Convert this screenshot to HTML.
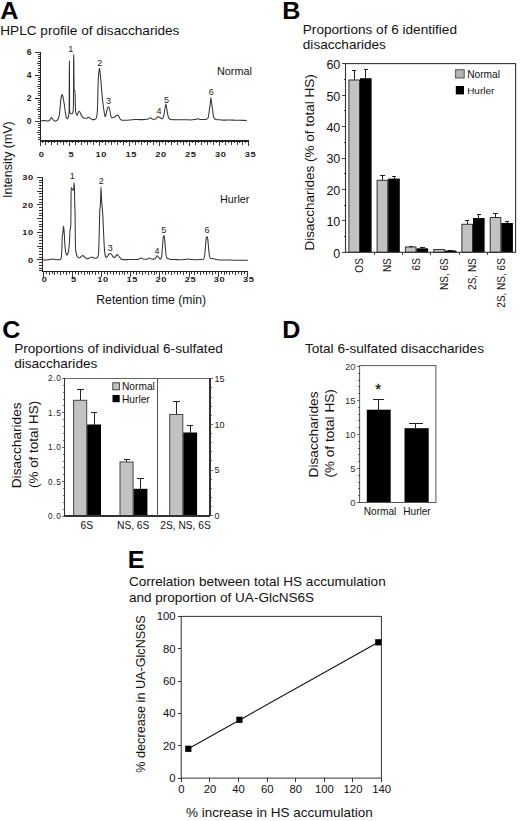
<!DOCTYPE html>
<html><head><meta charset="utf-8"><style>
html,body{margin:0;padding:0;background:#fff;}
svg{display:block;font-family:"Liberation Sans", sans-serif;}
line{shape-rendering:crispEdges;}
body{overflow:hidden;}
</style></head><body>
<svg width="520" height="821" viewBox="0 0 520 821">
<rect width="520" height="821" fill="#fff"/>
<text transform="translate(0.2,18.6) scale(1.07,1)" font-size="23.5" font-weight="bold" fill="#000">A</text>
<text x="0.3" y="34.6" font-size="13.6" text-anchor="start" font-weight="normal" fill="#111" >HPLC profile of disaccharides</text>
<line x1="40.5" y1="51.5" x2="40.5" y2="141" stroke="#222" stroke-width="1.1"/>
<line x1="40.5" y1="141" x2="249.4" y2="141" stroke="#222" stroke-width="1.1"/>
<line x1="38.3" y1="139.4" x2="40.5" y2="139.4" stroke="#222" stroke-width="0.9"/>
<line x1="38.3" y1="137.1" x2="40.5" y2="137.1" stroke="#222" stroke-width="0.9"/>
<line x1="38.3" y1="134.8" x2="40.5" y2="134.8" stroke="#222" stroke-width="0.9"/>
<line x1="36.5" y1="132.5" x2="40.5" y2="132.5" stroke="#222" stroke-width="0.9"/>
<line x1="38.3" y1="130.2" x2="40.5" y2="130.2" stroke="#222" stroke-width="0.9"/>
<line x1="38.3" y1="127.9" x2="40.5" y2="127.9" stroke="#222" stroke-width="0.9"/>
<line x1="38.3" y1="125.6" x2="40.5" y2="125.6" stroke="#222" stroke-width="0.9"/>
<line x1="38.3" y1="123.3" x2="40.5" y2="123.3" stroke="#222" stroke-width="0.9"/>
<line x1="34.5" y1="121.0" x2="40.5" y2="121.0" stroke="#222" stroke-width="0.9"/>
<line x1="38.3" y1="118.7" x2="40.5" y2="118.7" stroke="#222" stroke-width="0.9"/>
<line x1="38.3" y1="116.4" x2="40.5" y2="116.4" stroke="#222" stroke-width="0.9"/>
<line x1="38.3" y1="114.1" x2="40.5" y2="114.1" stroke="#222" stroke-width="0.9"/>
<line x1="38.3" y1="111.8" x2="40.5" y2="111.8" stroke="#222" stroke-width="0.9"/>
<line x1="36.5" y1="109.5" x2="40.5" y2="109.5" stroke="#222" stroke-width="0.9"/>
<line x1="38.3" y1="107.2" x2="40.5" y2="107.2" stroke="#222" stroke-width="0.9"/>
<line x1="38.3" y1="104.9" x2="40.5" y2="104.9" stroke="#222" stroke-width="0.9"/>
<line x1="38.3" y1="102.6" x2="40.5" y2="102.6" stroke="#222" stroke-width="0.9"/>
<line x1="38.3" y1="100.3" x2="40.5" y2="100.3" stroke="#222" stroke-width="0.9"/>
<line x1="34.5" y1="98.0" x2="40.5" y2="98.0" stroke="#222" stroke-width="0.9"/>
<line x1="38.3" y1="95.7" x2="40.5" y2="95.7" stroke="#222" stroke-width="0.9"/>
<line x1="38.3" y1="93.4" x2="40.5" y2="93.4" stroke="#222" stroke-width="0.9"/>
<line x1="38.3" y1="91.1" x2="40.5" y2="91.1" stroke="#222" stroke-width="0.9"/>
<line x1="38.3" y1="88.80000000000001" x2="40.5" y2="88.80000000000001" stroke="#222" stroke-width="0.9"/>
<line x1="36.5" y1="86.5" x2="40.5" y2="86.5" stroke="#222" stroke-width="0.9"/>
<line x1="38.3" y1="84.19999999999999" x2="40.5" y2="84.19999999999999" stroke="#222" stroke-width="0.9"/>
<line x1="38.3" y1="81.9" x2="40.5" y2="81.9" stroke="#222" stroke-width="0.9"/>
<line x1="38.3" y1="79.6" x2="40.5" y2="79.6" stroke="#222" stroke-width="0.9"/>
<line x1="38.3" y1="77.30000000000001" x2="40.5" y2="77.30000000000001" stroke="#222" stroke-width="0.9"/>
<line x1="34.5" y1="75.0" x2="40.5" y2="75.0" stroke="#222" stroke-width="0.9"/>
<line x1="38.3" y1="72.69999999999999" x2="40.5" y2="72.69999999999999" stroke="#222" stroke-width="0.9"/>
<line x1="38.3" y1="70.4" x2="40.5" y2="70.4" stroke="#222" stroke-width="0.9"/>
<line x1="38.3" y1="68.1" x2="40.5" y2="68.1" stroke="#222" stroke-width="0.9"/>
<line x1="38.3" y1="65.80000000000001" x2="40.5" y2="65.80000000000001" stroke="#222" stroke-width="0.9"/>
<line x1="36.5" y1="63.5" x2="40.5" y2="63.5" stroke="#222" stroke-width="0.9"/>
<line x1="38.3" y1="61.199999999999996" x2="40.5" y2="61.199999999999996" stroke="#222" stroke-width="0.9"/>
<line x1="38.3" y1="58.9" x2="40.5" y2="58.9" stroke="#222" stroke-width="0.9"/>
<line x1="38.3" y1="56.60000000000001" x2="40.5" y2="56.60000000000001" stroke="#222" stroke-width="0.9"/>
<line x1="38.3" y1="54.3" x2="40.5" y2="54.3" stroke="#222" stroke-width="0.9"/>
<line x1="34.5" y1="52.0" x2="40.5" y2="52.0" stroke="#222" stroke-width="0.9"/>
<text x="31.6" y="124.2" font-size="8.6" text-anchor="end" font-weight="bold" fill="#222" >0</text>
<text x="31.6" y="101.2" font-size="8.6" text-anchor="end" font-weight="bold" fill="#222" >2</text>
<text x="31.6" y="78.2" font-size="8.6" text-anchor="end" font-weight="bold" fill="#222" >4</text>
<text x="31.6" y="55.2" font-size="8.6" text-anchor="end" font-weight="bold" fill="#222" >6</text>
<line x1="40.0" y1="141" x2="40.0" y2="146" stroke="#222" stroke-width="0.9"/>
<line x1="42.985" y1="141" x2="42.985" y2="143.3" stroke="#222" stroke-width="0.9"/>
<line x1="45.97" y1="141" x2="45.97" y2="144.5" stroke="#222" stroke-width="0.9"/>
<line x1="48.955" y1="141" x2="48.955" y2="143.3" stroke="#222" stroke-width="0.9"/>
<line x1="51.94" y1="141" x2="51.94" y2="144.5" stroke="#222" stroke-width="0.9"/>
<line x1="54.925" y1="141" x2="54.925" y2="143.3" stroke="#222" stroke-width="0.9"/>
<line x1="57.91" y1="141" x2="57.91" y2="144.5" stroke="#222" stroke-width="0.9"/>
<line x1="60.894999999999996" y1="141" x2="60.894999999999996" y2="143.3" stroke="#222" stroke-width="0.9"/>
<line x1="63.879999999999995" y1="141" x2="63.879999999999995" y2="144.5" stroke="#222" stroke-width="0.9"/>
<line x1="66.865" y1="141" x2="66.865" y2="143.3" stroke="#222" stroke-width="0.9"/>
<line x1="69.85" y1="141" x2="69.85" y2="146" stroke="#222" stroke-width="0.9"/>
<line x1="72.83500000000001" y1="141" x2="72.83500000000001" y2="143.3" stroke="#222" stroke-width="0.9"/>
<line x1="75.82" y1="141" x2="75.82" y2="144.5" stroke="#222" stroke-width="0.9"/>
<line x1="78.805" y1="141" x2="78.805" y2="143.3" stroke="#222" stroke-width="0.9"/>
<line x1="81.78999999999999" y1="141" x2="81.78999999999999" y2="144.5" stroke="#222" stroke-width="0.9"/>
<line x1="84.775" y1="141" x2="84.775" y2="143.3" stroke="#222" stroke-width="0.9"/>
<line x1="87.75999999999999" y1="141" x2="87.75999999999999" y2="144.5" stroke="#222" stroke-width="0.9"/>
<line x1="90.745" y1="141" x2="90.745" y2="143.3" stroke="#222" stroke-width="0.9"/>
<line x1="93.72999999999999" y1="141" x2="93.72999999999999" y2="144.5" stroke="#222" stroke-width="0.9"/>
<line x1="96.715" y1="141" x2="96.715" y2="143.3" stroke="#222" stroke-width="0.9"/>
<line x1="99.69999999999999" y1="141" x2="99.69999999999999" y2="146" stroke="#222" stroke-width="0.9"/>
<line x1="102.685" y1="141" x2="102.685" y2="143.3" stroke="#222" stroke-width="0.9"/>
<line x1="105.67" y1="141" x2="105.67" y2="144.5" stroke="#222" stroke-width="0.9"/>
<line x1="108.655" y1="141" x2="108.655" y2="143.3" stroke="#222" stroke-width="0.9"/>
<line x1="111.64" y1="141" x2="111.64" y2="144.5" stroke="#222" stroke-width="0.9"/>
<line x1="114.625" y1="141" x2="114.625" y2="143.3" stroke="#222" stroke-width="0.9"/>
<line x1="117.61" y1="141" x2="117.61" y2="144.5" stroke="#222" stroke-width="0.9"/>
<line x1="120.595" y1="141" x2="120.595" y2="143.3" stroke="#222" stroke-width="0.9"/>
<line x1="123.58" y1="141" x2="123.58" y2="144.5" stroke="#222" stroke-width="0.9"/>
<line x1="126.565" y1="141" x2="126.565" y2="143.3" stroke="#222" stroke-width="0.9"/>
<line x1="129.55" y1="141" x2="129.55" y2="146" stroke="#222" stroke-width="0.9"/>
<line x1="132.535" y1="141" x2="132.535" y2="143.3" stroke="#222" stroke-width="0.9"/>
<line x1="135.51999999999998" y1="141" x2="135.51999999999998" y2="144.5" stroke="#222" stroke-width="0.9"/>
<line x1="138.505" y1="141" x2="138.505" y2="143.3" stroke="#222" stroke-width="0.9"/>
<line x1="141.49" y1="141" x2="141.49" y2="144.5" stroke="#222" stroke-width="0.9"/>
<line x1="144.475" y1="141" x2="144.475" y2="143.3" stroke="#222" stroke-width="0.9"/>
<line x1="147.45999999999998" y1="141" x2="147.45999999999998" y2="144.5" stroke="#222" stroke-width="0.9"/>
<line x1="150.445" y1="141" x2="150.445" y2="143.3" stroke="#222" stroke-width="0.9"/>
<line x1="153.43" y1="141" x2="153.43" y2="144.5" stroke="#222" stroke-width="0.9"/>
<line x1="156.415" y1="141" x2="156.415" y2="143.3" stroke="#222" stroke-width="0.9"/>
<line x1="159.39999999999998" y1="141" x2="159.39999999999998" y2="146" stroke="#222" stroke-width="0.9"/>
<line x1="162.385" y1="141" x2="162.385" y2="143.3" stroke="#222" stroke-width="0.9"/>
<line x1="165.37" y1="141" x2="165.37" y2="144.5" stroke="#222" stroke-width="0.9"/>
<line x1="168.355" y1="141" x2="168.355" y2="143.3" stroke="#222" stroke-width="0.9"/>
<line x1="171.34" y1="141" x2="171.34" y2="144.5" stroke="#222" stroke-width="0.9"/>
<line x1="174.325" y1="141" x2="174.325" y2="143.3" stroke="#222" stroke-width="0.9"/>
<line x1="177.31" y1="141" x2="177.31" y2="144.5" stroke="#222" stroke-width="0.9"/>
<line x1="180.295" y1="141" x2="180.295" y2="143.3" stroke="#222" stroke-width="0.9"/>
<line x1="183.28" y1="141" x2="183.28" y2="144.5" stroke="#222" stroke-width="0.9"/>
<line x1="186.265" y1="141" x2="186.265" y2="143.3" stroke="#222" stroke-width="0.9"/>
<line x1="189.25" y1="141" x2="189.25" y2="146" stroke="#222" stroke-width="0.9"/>
<line x1="192.23499999999999" y1="141" x2="192.23499999999999" y2="143.3" stroke="#222" stroke-width="0.9"/>
<line x1="195.22" y1="141" x2="195.22" y2="144.5" stroke="#222" stroke-width="0.9"/>
<line x1="198.20499999999998" y1="141" x2="198.20499999999998" y2="143.3" stroke="#222" stroke-width="0.9"/>
<line x1="201.19" y1="141" x2="201.19" y2="144.5" stroke="#222" stroke-width="0.9"/>
<line x1="204.17499999999998" y1="141" x2="204.17499999999998" y2="143.3" stroke="#222" stroke-width="0.9"/>
<line x1="207.16" y1="141" x2="207.16" y2="144.5" stroke="#222" stroke-width="0.9"/>
<line x1="210.14499999999998" y1="141" x2="210.14499999999998" y2="143.3" stroke="#222" stroke-width="0.9"/>
<line x1="213.13" y1="141" x2="213.13" y2="144.5" stroke="#222" stroke-width="0.9"/>
<line x1="216.11499999999998" y1="141" x2="216.11499999999998" y2="143.3" stroke="#222" stroke-width="0.9"/>
<line x1="219.1" y1="141" x2="219.1" y2="146" stroke="#222" stroke-width="0.9"/>
<line x1="222.08499999999998" y1="141" x2="222.08499999999998" y2="143.3" stroke="#222" stroke-width="0.9"/>
<line x1="225.07" y1="141" x2="225.07" y2="144.5" stroke="#222" stroke-width="0.9"/>
<line x1="228.05499999999998" y1="141" x2="228.05499999999998" y2="143.3" stroke="#222" stroke-width="0.9"/>
<line x1="231.04" y1="141" x2="231.04" y2="144.5" stroke="#222" stroke-width="0.9"/>
<line x1="234.025" y1="141" x2="234.025" y2="143.3" stroke="#222" stroke-width="0.9"/>
<line x1="237.01" y1="141" x2="237.01" y2="144.5" stroke="#222" stroke-width="0.9"/>
<line x1="239.995" y1="141" x2="239.995" y2="143.3" stroke="#222" stroke-width="0.9"/>
<line x1="242.98" y1="141" x2="242.98" y2="144.5" stroke="#222" stroke-width="0.9"/>
<line x1="245.965" y1="141" x2="245.965" y2="143.3" stroke="#222" stroke-width="0.9"/>
<line x1="248.95" y1="141" x2="248.95" y2="146" stroke="#222" stroke-width="0.9"/>
<text transform="translate(41.6,157.3) scale(1.22,1)" font-size="7.6" font-weight="bold" letter-spacing="0.5" text-anchor="middle" fill="#222">0</text>
<text transform="translate(71.44999999999999,157.3) scale(1.22,1)" font-size="7.6" font-weight="bold" letter-spacing="0.5" text-anchor="middle" fill="#222">5</text>
<text transform="translate(101.29999999999998,157.3) scale(1.22,1)" font-size="7.6" font-weight="bold" letter-spacing="0.5" text-anchor="middle" fill="#222">10</text>
<text transform="translate(131.15,157.3) scale(1.22,1)" font-size="7.6" font-weight="bold" letter-spacing="0.5" text-anchor="middle" fill="#222">15</text>
<text transform="translate(160.99999999999997,157.3) scale(1.22,1)" font-size="7.6" font-weight="bold" letter-spacing="0.5" text-anchor="middle" fill="#222">20</text>
<text transform="translate(190.85,157.3) scale(1.22,1)" font-size="7.6" font-weight="bold" letter-spacing="0.5" text-anchor="middle" fill="#222">25</text>
<text transform="translate(220.7,157.3) scale(1.22,1)" font-size="7.6" font-weight="bold" letter-spacing="0.5" text-anchor="middle" fill="#222">30</text>
<text transform="translate(250.54999999999998,157.3) scale(1.22,1)" font-size="7.6" font-weight="bold" letter-spacing="0.5" text-anchor="middle" fill="#222">35</text>
<path d="M40.60,120.90 C41.40,120.83 42.20,120.77 43.00,120.70 C43.67,120.64 44.33,120.50 45.00,120.50 C45.67,120.50 46.33,120.90 47.00,120.90 C47.67,120.90 48.33,120.83 49.00,120.70 C49.43,120.62 49.87,119.80 50.30,119.20 C50.63,118.74 50.97,117.50 51.30,117.50 C51.70,117.50 52.10,118.35 52.50,118.80 C53.00,119.37 53.50,120.31 54.00,120.60 C54.43,120.85 54.87,121.10 55.30,121.10 C55.87,121.10 56.43,120.70 57.00,120.30 C57.50,119.94 58.00,119.31 58.50,118.20 C58.87,117.39 59.23,115.47 59.60,113.00 C59.90,110.98 60.20,105.81 60.50,103.00 C60.77,100.50 61.03,97.40 61.30,96.50 C61.60,95.48 61.90,94.60 62.20,94.60 C62.47,94.60 62.73,95.94 63.00,97.00 C63.20,97.80 63.40,99.26 63.60,100.40 C63.87,101.92 64.13,103.24 64.40,105.00 C64.70,106.98 65.00,110.10 65.30,112.00 C65.63,114.11 65.97,116.57 66.30,117.30 C66.67,118.10 67.03,118.80 67.40,118.80 C67.73,118.80 68.07,117.70 68.40,116.50 C68.65,115.60 68.90,115.50 69.15,111.00 C69.20,110.10 69.25,83.65 69.30,75.00 C69.33,69.23 69.37,61.10 69.40,61.10 C69.43,61.10 69.47,69.23 69.50,75.00 C69.55,83.65 69.60,110.61 69.65,111.00 C69.93,113.22 70.22,113.51 70.50,113.60 C70.93,113.74 71.37,113.80 71.80,113.80 C72.17,113.80 72.53,113.38 72.90,112.50 C73.08,112.06 73.27,110.79 73.45,105.00 C73.50,103.42 73.55,64.58 73.60,60.00 C73.63,56.95 73.67,54.30 73.70,54.30 C73.75,54.30 73.80,57.06 73.85,60.00 C73.92,63.93 73.98,89.60 74.05,89.80 C74.23,90.35 74.42,90.14 74.60,90.50 C74.73,90.76 74.87,91.07 75.00,92.00 C75.10,92.70 75.20,98.75 75.30,102.00 C75.40,105.25 75.50,110.74 75.60,111.50 C75.87,113.53 76.13,114.04 76.40,114.50 C76.67,114.96 76.93,115.40 77.20,115.40 C77.53,115.40 77.87,113.06 78.20,112.50 C78.57,111.88 78.93,111.20 79.30,111.20 C79.70,111.20 80.10,112.73 80.50,113.50 C80.97,114.40 81.43,115.57 81.90,116.20 C82.60,117.14 83.30,118.30 84.00,118.30 C84.83,118.30 85.67,118.26 86.50,118.20 C87.27,118.14 88.03,117.30 88.80,117.30 C89.37,117.30 89.93,118.23 90.50,118.60 C91.10,118.99 91.70,119.60 92.30,119.60 C93.03,119.60 93.77,119.60 94.50,119.60 C95.00,119.60 95.50,119.13 96.00,118.50 C96.30,118.12 96.60,117.14 96.90,115.50 C97.10,114.41 97.30,111.81 97.50,108.00 C97.70,104.19 97.90,88.87 98.10,84.00 C98.30,79.13 98.50,75.67 98.70,73.50 C98.87,71.69 99.03,70.36 99.20,69.50 C99.30,68.98 99.40,68.30 99.50,68.30 C99.60,68.30 99.70,69.32 99.80,70.00 C99.97,71.14 100.13,72.88 100.30,74.50 C100.53,76.77 100.77,79.31 101.00,82.00 C101.27,85.07 101.53,89.03 101.80,92.00 C102.10,95.34 102.40,98.37 102.70,101.00 C103.07,104.21 103.43,107.22 103.80,109.50 C104.27,112.41 104.73,116.70 105.20,116.70 C105.53,116.70 105.87,115.17 106.20,114.00 C106.53,112.83 106.87,109.93 107.20,109.00 C107.57,107.98 107.93,106.90 108.30,106.90 C108.60,106.90 108.90,107.31 109.20,107.80 C109.53,108.34 109.87,110.92 110.20,112.50 C110.50,113.92 110.80,116.17 111.10,116.80 C111.37,117.36 111.63,117.90 111.90,117.90 C112.43,117.90 112.97,117.75 113.50,117.60 C114.17,117.42 114.83,116.94 115.50,116.50 C116.10,116.10 116.70,115.00 117.30,115.00 C117.80,115.00 118.30,115.69 118.80,116.30 C119.27,116.87 119.73,118.70 120.20,119.10 C120.90,119.70 121.60,120.16 122.30,120.20 C123.53,120.27 124.77,120.30 126.00,120.30 C127.33,120.30 128.67,120.12 130.00,120.00 C131.67,119.85 133.33,119.40 135.00,119.40 C136.67,119.40 138.33,119.60 140.00,119.60 C141.67,119.60 143.33,119.50 145.00,119.40 C146.10,119.34 147.20,119.28 148.30,119.10 C149.03,118.98 149.77,117.70 150.50,117.70 C151.17,117.70 151.83,119.20 152.50,119.20 C153.33,119.20 154.17,119.20 155.00,119.20 C155.60,119.20 156.20,118.29 156.80,117.80 C157.27,117.42 157.73,116.60 158.20,116.60 C158.70,116.60 159.20,117.20 159.70,117.50 C160.30,117.86 160.90,118.60 161.50,118.60 C162.00,118.60 162.50,118.37 163.00,118.00 C163.40,117.70 163.80,115.42 164.20,113.50 C164.53,111.90 164.87,108.59 165.20,107.00 C165.43,105.89 165.67,104.30 165.90,104.30 C166.10,104.30 166.30,105.96 166.50,107.00 C166.77,108.38 167.03,110.52 167.30,112.00 C167.60,113.67 167.90,115.61 168.20,116.50 C168.53,117.49 168.87,118.25 169.20,118.60 C169.63,119.06 170.07,119.46 170.50,119.50 C172.00,119.65 173.50,119.66 175.00,119.70 C176.67,119.75 178.33,119.80 180.00,119.80 C181.67,119.80 183.33,119.80 185.00,119.80 C186.67,119.80 188.33,119.90 190.00,119.90 C191.67,119.90 193.33,119.77 195.00,119.60 C196.00,119.50 197.00,118.80 198.00,118.80 C198.67,118.80 199.33,119.37 200.00,119.40 C201.33,119.47 202.67,119.50 204.00,119.50 C204.83,119.50 205.67,119.43 206.50,119.30 C206.97,119.23 207.43,118.91 207.90,118.30 C208.17,117.95 208.43,116.44 208.70,115.00 C208.90,113.92 209.10,112.00 209.30,110.50 C209.63,108.00 209.97,105.75 210.30,103.00 C210.50,101.35 210.70,97.60 210.90,97.60 C211.10,97.60 211.30,101.04 211.50,102.50 C211.83,104.94 212.17,106.62 212.50,109.00 C212.77,110.91 213.03,114.12 213.30,115.30 C213.63,116.77 213.97,117.90 214.30,118.30 C214.87,118.98 215.43,119.41 216.00,119.50 C217.33,119.70 218.67,119.71 220.00,119.80 C221.67,119.91 223.33,120.10 225.00,120.10 C226.67,120.10 228.33,120.00 230.00,120.00 C231.67,120.00 233.33,120.16 235.00,120.20 C236.67,120.24 238.33,120.26 240.00,120.30 C242.23,120.35 244.47,120.43 246.70,120.50" fill="none" stroke="#333" stroke-width="1.05" stroke-linejoin="round"/>
<text x="70.7" y="52.2" font-size="9" text-anchor="middle" font-weight="normal" fill="#222" >1</text>
<text x="99.8" y="66.2" font-size="9" text-anchor="middle" font-weight="normal" fill="#222" >2</text>
<text x="108.5" y="104.3" font-size="9" text-anchor="middle" font-weight="normal" fill="#222" >3</text>
<text x="158.9" y="114.2" font-size="9" text-anchor="middle" font-weight="normal" fill="#222" >4</text>
<text x="166.4" y="102.5" font-size="9" text-anchor="middle" font-weight="normal" fill="#222" >5</text>
<text x="211.3" y="95.4" font-size="9" text-anchor="middle" font-weight="normal" fill="#222" >6</text>
<text x="217" y="75" font-size="10.8" text-anchor="start" font-weight="normal" fill="#111" >Normal</text>
<line x1="42.1" y1="177" x2="42.1" y2="271.4" stroke="#222" stroke-width="1.1"/>
<line x1="42.1" y1="271.4" x2="246.5" y2="271.4" stroke="#222" stroke-width="1.1"/>
<line x1="39.3" y1="270.8" x2="42.1" y2="270.8" stroke="#222" stroke-width="0.9"/>
<line x1="39.3" y1="268.05" x2="42.1" y2="268.05" stroke="#222" stroke-width="0.9"/>
<line x1="39.3" y1="265.3" x2="42.1" y2="265.3" stroke="#222" stroke-width="0.9"/>
<line x1="39.3" y1="262.55" x2="42.1" y2="262.55" stroke="#222" stroke-width="0.9"/>
<line x1="36.7" y1="259.8" x2="42.1" y2="259.8" stroke="#222" stroke-width="0.9"/>
<line x1="39.3" y1="257.05" x2="42.1" y2="257.05" stroke="#222" stroke-width="0.9"/>
<line x1="39.3" y1="254.3" x2="42.1" y2="254.3" stroke="#222" stroke-width="0.9"/>
<line x1="39.3" y1="251.55" x2="42.1" y2="251.55" stroke="#222" stroke-width="0.9"/>
<line x1="39.3" y1="248.8" x2="42.1" y2="248.8" stroke="#222" stroke-width="0.9"/>
<line x1="36.7" y1="246.05" x2="42.1" y2="246.05" stroke="#222" stroke-width="0.9"/>
<line x1="39.3" y1="243.3" x2="42.1" y2="243.3" stroke="#222" stroke-width="0.9"/>
<line x1="39.3" y1="240.55" x2="42.1" y2="240.55" stroke="#222" stroke-width="0.9"/>
<line x1="39.3" y1="237.8" x2="42.1" y2="237.8" stroke="#222" stroke-width="0.9"/>
<line x1="39.3" y1="235.05" x2="42.1" y2="235.05" stroke="#222" stroke-width="0.9"/>
<line x1="36.7" y1="232.3" x2="42.1" y2="232.3" stroke="#222" stroke-width="0.9"/>
<line x1="39.3" y1="229.55" x2="42.1" y2="229.55" stroke="#222" stroke-width="0.9"/>
<line x1="39.3" y1="226.8" x2="42.1" y2="226.8" stroke="#222" stroke-width="0.9"/>
<line x1="39.3" y1="224.05" x2="42.1" y2="224.05" stroke="#222" stroke-width="0.9"/>
<line x1="39.3" y1="221.3" x2="42.1" y2="221.3" stroke="#222" stroke-width="0.9"/>
<line x1="36.7" y1="218.55" x2="42.1" y2="218.55" stroke="#222" stroke-width="0.9"/>
<line x1="39.3" y1="215.8" x2="42.1" y2="215.8" stroke="#222" stroke-width="0.9"/>
<line x1="39.3" y1="213.05" x2="42.1" y2="213.05" stroke="#222" stroke-width="0.9"/>
<line x1="39.3" y1="210.3" x2="42.1" y2="210.3" stroke="#222" stroke-width="0.9"/>
<line x1="39.3" y1="207.55" x2="42.1" y2="207.55" stroke="#222" stroke-width="0.9"/>
<line x1="36.7" y1="204.8" x2="42.1" y2="204.8" stroke="#222" stroke-width="0.9"/>
<line x1="39.3" y1="202.05" x2="42.1" y2="202.05" stroke="#222" stroke-width="0.9"/>
<line x1="39.3" y1="199.3" x2="42.1" y2="199.3" stroke="#222" stroke-width="0.9"/>
<line x1="39.3" y1="196.55" x2="42.1" y2="196.55" stroke="#222" stroke-width="0.9"/>
<line x1="39.3" y1="193.8" x2="42.1" y2="193.8" stroke="#222" stroke-width="0.9"/>
<line x1="36.7" y1="191.05" x2="42.1" y2="191.05" stroke="#222" stroke-width="0.9"/>
<line x1="39.3" y1="188.3" x2="42.1" y2="188.3" stroke="#222" stroke-width="0.9"/>
<line x1="39.3" y1="185.55" x2="42.1" y2="185.55" stroke="#222" stroke-width="0.9"/>
<line x1="39.3" y1="182.8" x2="42.1" y2="182.8" stroke="#222" stroke-width="0.9"/>
<line x1="39.3" y1="180.05" x2="42.1" y2="180.05" stroke="#222" stroke-width="0.9"/>
<line x1="36.7" y1="177.3" x2="42.1" y2="177.3" stroke="#222" stroke-width="0.9"/>
<text transform="translate(33.8,262.5) scale(1.22,1)" font-size="7.6" font-weight="bold" letter-spacing="0.5" text-anchor="end" fill="#222">0</text>
<text transform="translate(33.8,235.0) scale(1.22,1)" font-size="7.6" font-weight="bold" letter-spacing="0.5" text-anchor="end" fill="#222">10</text>
<text transform="translate(33.8,207.5) scale(1.22,1)" font-size="7.6" font-weight="bold" letter-spacing="0.5" text-anchor="end" fill="#222">20</text>
<text transform="translate(33.8,180.0) scale(1.22,1)" font-size="7.6" font-weight="bold" letter-spacing="0.5" text-anchor="end" fill="#222">30</text>
<line x1="43.3" y1="271.4" x2="43.3" y2="276.5" stroke="#222" stroke-width="0.9"/>
<line x1="46.214999999999996" y1="271.4" x2="46.214999999999996" y2="273.8" stroke="#222" stroke-width="0.9"/>
<line x1="49.129999999999995" y1="271.4" x2="49.129999999999995" y2="275" stroke="#222" stroke-width="0.9"/>
<line x1="52.045" y1="271.4" x2="52.045" y2="273.8" stroke="#222" stroke-width="0.9"/>
<line x1="54.959999999999994" y1="271.4" x2="54.959999999999994" y2="275" stroke="#222" stroke-width="0.9"/>
<line x1="57.875" y1="271.4" x2="57.875" y2="273.8" stroke="#222" stroke-width="0.9"/>
<line x1="60.79" y1="271.4" x2="60.79" y2="275" stroke="#222" stroke-width="0.9"/>
<line x1="63.705" y1="271.4" x2="63.705" y2="273.8" stroke="#222" stroke-width="0.9"/>
<line x1="66.62" y1="271.4" x2="66.62" y2="275" stroke="#222" stroke-width="0.9"/>
<line x1="69.535" y1="271.4" x2="69.535" y2="273.8" stroke="#222" stroke-width="0.9"/>
<line x1="72.44999999999999" y1="271.4" x2="72.44999999999999" y2="276.5" stroke="#222" stroke-width="0.9"/>
<line x1="75.365" y1="271.4" x2="75.365" y2="273.8" stroke="#222" stroke-width="0.9"/>
<line x1="78.28" y1="271.4" x2="78.28" y2="275" stroke="#222" stroke-width="0.9"/>
<line x1="81.195" y1="271.4" x2="81.195" y2="273.8" stroke="#222" stroke-width="0.9"/>
<line x1="84.11" y1="271.4" x2="84.11" y2="275" stroke="#222" stroke-width="0.9"/>
<line x1="87.025" y1="271.4" x2="87.025" y2="273.8" stroke="#222" stroke-width="0.9"/>
<line x1="89.94" y1="271.4" x2="89.94" y2="275" stroke="#222" stroke-width="0.9"/>
<line x1="92.85499999999999" y1="271.4" x2="92.85499999999999" y2="273.8" stroke="#222" stroke-width="0.9"/>
<line x1="95.77" y1="271.4" x2="95.77" y2="275" stroke="#222" stroke-width="0.9"/>
<line x1="98.685" y1="271.4" x2="98.685" y2="273.8" stroke="#222" stroke-width="0.9"/>
<line x1="101.6" y1="271.4" x2="101.6" y2="276.5" stroke="#222" stroke-width="0.9"/>
<line x1="104.515" y1="271.4" x2="104.515" y2="273.8" stroke="#222" stroke-width="0.9"/>
<line x1="107.42999999999999" y1="271.4" x2="107.42999999999999" y2="275" stroke="#222" stroke-width="0.9"/>
<line x1="110.345" y1="271.4" x2="110.345" y2="273.8" stroke="#222" stroke-width="0.9"/>
<line x1="113.26" y1="271.4" x2="113.26" y2="275" stroke="#222" stroke-width="0.9"/>
<line x1="116.175" y1="271.4" x2="116.175" y2="273.8" stroke="#222" stroke-width="0.9"/>
<line x1="119.09" y1="271.4" x2="119.09" y2="275" stroke="#222" stroke-width="0.9"/>
<line x1="122.005" y1="271.4" x2="122.005" y2="273.8" stroke="#222" stroke-width="0.9"/>
<line x1="124.92" y1="271.4" x2="124.92" y2="275" stroke="#222" stroke-width="0.9"/>
<line x1="127.835" y1="271.4" x2="127.835" y2="273.8" stroke="#222" stroke-width="0.9"/>
<line x1="130.75" y1="271.4" x2="130.75" y2="276.5" stroke="#222" stroke-width="0.9"/>
<line x1="133.665" y1="271.4" x2="133.665" y2="273.8" stroke="#222" stroke-width="0.9"/>
<line x1="136.57999999999998" y1="271.4" x2="136.57999999999998" y2="275" stroke="#222" stroke-width="0.9"/>
<line x1="139.495" y1="271.4" x2="139.495" y2="273.8" stroke="#222" stroke-width="0.9"/>
<line x1="142.41" y1="271.4" x2="142.41" y2="275" stroke="#222" stroke-width="0.9"/>
<line x1="145.325" y1="271.4" x2="145.325" y2="273.8" stroke="#222" stroke-width="0.9"/>
<line x1="148.24" y1="271.4" x2="148.24" y2="275" stroke="#222" stroke-width="0.9"/>
<line x1="151.155" y1="271.4" x2="151.155" y2="273.8" stroke="#222" stroke-width="0.9"/>
<line x1="154.07" y1="271.4" x2="154.07" y2="275" stroke="#222" stroke-width="0.9"/>
<line x1="156.985" y1="271.4" x2="156.985" y2="273.8" stroke="#222" stroke-width="0.9"/>
<line x1="159.89999999999998" y1="271.4" x2="159.89999999999998" y2="276.5" stroke="#222" stroke-width="0.9"/>
<line x1="162.815" y1="271.4" x2="162.815" y2="273.8" stroke="#222" stroke-width="0.9"/>
<line x1="165.73000000000002" y1="271.4" x2="165.73000000000002" y2="275" stroke="#222" stroke-width="0.9"/>
<line x1="168.64499999999998" y1="271.4" x2="168.64499999999998" y2="273.8" stroke="#222" stroke-width="0.9"/>
<line x1="171.56" y1="271.4" x2="171.56" y2="275" stroke="#222" stroke-width="0.9"/>
<line x1="174.47500000000002" y1="271.4" x2="174.47500000000002" y2="273.8" stroke="#222" stroke-width="0.9"/>
<line x1="177.39" y1="271.4" x2="177.39" y2="275" stroke="#222" stroke-width="0.9"/>
<line x1="180.305" y1="271.4" x2="180.305" y2="273.8" stroke="#222" stroke-width="0.9"/>
<line x1="183.22000000000003" y1="271.4" x2="183.22000000000003" y2="275" stroke="#222" stroke-width="0.9"/>
<line x1="186.135" y1="271.4" x2="186.135" y2="273.8" stroke="#222" stroke-width="0.9"/>
<line x1="189.05" y1="271.4" x2="189.05" y2="276.5" stroke="#222" stroke-width="0.9"/>
<line x1="191.96499999999997" y1="271.4" x2="191.96499999999997" y2="273.8" stroke="#222" stroke-width="0.9"/>
<line x1="194.88" y1="271.4" x2="194.88" y2="275" stroke="#222" stroke-width="0.9"/>
<line x1="197.79500000000002" y1="271.4" x2="197.79500000000002" y2="273.8" stroke="#222" stroke-width="0.9"/>
<line x1="200.70999999999998" y1="271.4" x2="200.70999999999998" y2="275" stroke="#222" stroke-width="0.9"/>
<line x1="203.625" y1="271.4" x2="203.625" y2="273.8" stroke="#222" stroke-width="0.9"/>
<line x1="206.54000000000002" y1="271.4" x2="206.54000000000002" y2="275" stroke="#222" stroke-width="0.9"/>
<line x1="209.45499999999998" y1="271.4" x2="209.45499999999998" y2="273.8" stroke="#222" stroke-width="0.9"/>
<line x1="212.37" y1="271.4" x2="212.37" y2="275" stroke="#222" stroke-width="0.9"/>
<line x1="215.28500000000003" y1="271.4" x2="215.28500000000003" y2="273.8" stroke="#222" stroke-width="0.9"/>
<line x1="218.2" y1="271.4" x2="218.2" y2="276.5" stroke="#222" stroke-width="0.9"/>
<line x1="221.115" y1="271.4" x2="221.115" y2="273.8" stroke="#222" stroke-width="0.9"/>
<line x1="224.02999999999997" y1="271.4" x2="224.02999999999997" y2="275" stroke="#222" stroke-width="0.9"/>
<line x1="226.945" y1="271.4" x2="226.945" y2="273.8" stroke="#222" stroke-width="0.9"/>
<line x1="229.86" y1="271.4" x2="229.86" y2="275" stroke="#222" stroke-width="0.9"/>
<line x1="232.77499999999998" y1="271.4" x2="232.77499999999998" y2="273.8" stroke="#222" stroke-width="0.9"/>
<line x1="235.69" y1="271.4" x2="235.69" y2="275" stroke="#222" stroke-width="0.9"/>
<line x1="238.60500000000002" y1="271.4" x2="238.60500000000002" y2="273.8" stroke="#222" stroke-width="0.9"/>
<line x1="241.51999999999998" y1="271.4" x2="241.51999999999998" y2="275" stroke="#222" stroke-width="0.9"/>
<line x1="244.435" y1="271.4" x2="244.435" y2="273.8" stroke="#222" stroke-width="0.9"/>
<line x1="247.35000000000002" y1="271.4" x2="247.35000000000002" y2="276.5" stroke="#222" stroke-width="0.9"/>
<text transform="translate(44.699999999999996,282.0) scale(1.22,1)" font-size="7.6" font-weight="bold" letter-spacing="0.5" text-anchor="middle" fill="#222">0</text>
<text transform="translate(73.85,282.0) scale(1.22,1)" font-size="7.6" font-weight="bold" letter-spacing="0.5" text-anchor="middle" fill="#222">5</text>
<text transform="translate(103.0,282.0) scale(1.22,1)" font-size="7.6" font-weight="bold" letter-spacing="0.5" text-anchor="middle" fill="#222">10</text>
<text transform="translate(132.15,282.0) scale(1.22,1)" font-size="7.6" font-weight="bold" letter-spacing="0.5" text-anchor="middle" fill="#222">15</text>
<text transform="translate(161.29999999999998,282.0) scale(1.22,1)" font-size="7.6" font-weight="bold" letter-spacing="0.5" text-anchor="middle" fill="#222">20</text>
<text transform="translate(190.45000000000002,282.0) scale(1.22,1)" font-size="7.6" font-weight="bold" letter-spacing="0.5" text-anchor="middle" fill="#222">25</text>
<text transform="translate(219.6,282.0) scale(1.22,1)" font-size="7.6" font-weight="bold" letter-spacing="0.5" text-anchor="middle" fill="#222">30</text>
<text transform="translate(248.75000000000003,282.0) scale(1.22,1)" font-size="7.6" font-weight="bold" letter-spacing="0.5" text-anchor="middle" fill="#222">35</text>
<path d="M42.40,259.90 C43.60,259.90 44.80,259.90 46.00,259.90 C46.83,259.90 47.67,259.86 48.50,259.80 C49.33,259.74 50.17,259.44 51.00,259.30 C51.67,259.19 52.33,259.00 53.00,259.00 C53.67,259.00 54.33,259.40 55.00,259.50 C56.00,259.65 57.00,259.80 58.00,259.80 C58.77,259.80 59.53,259.71 60.30,259.50 C60.63,259.41 60.97,258.77 61.30,257.50 C61.50,256.74 61.70,252.23 61.90,248.00 C62.03,245.18 62.17,237.20 62.30,236.00 C62.50,234.20 62.70,234.47 62.90,233.00 C63.03,232.02 63.17,229.32 63.30,228.00 C63.37,227.34 63.43,226.30 63.50,226.30 C63.63,226.30 63.77,227.88 63.90,229.00 C64.03,230.12 64.17,231.64 64.30,233.50 C64.50,236.29 64.70,242.61 64.90,245.00 C65.20,248.58 65.50,251.34 65.80,252.50 C66.17,253.92 66.53,255.20 66.90,255.20 C67.33,255.20 67.77,253.92 68.20,252.50 C68.55,251.35 68.90,248.65 69.25,245.00 C69.53,242.05 69.82,231.68 70.10,229.50 C70.33,227.70 70.57,228.68 70.80,226.00 C70.87,225.23 70.93,214.00 71.00,205.00 C71.03,200.50 71.07,187.50 71.10,187.50 C71.23,187.50 71.37,188.00 71.50,188.20 C71.83,188.71 72.17,189.27 72.50,189.50 C72.87,189.75 73.23,190.00 73.60,190.00 C73.73,190.00 73.87,185.09 74.00,184.00 C74.07,183.45 74.13,182.80 74.20,182.80 C74.30,182.80 74.40,186.39 74.50,190.00 C74.57,192.41 74.63,200.04 74.70,202.90 C74.83,208.62 74.97,208.34 75.10,215.00 C75.17,218.33 75.23,231.54 75.30,235.80 C75.40,242.19 75.50,247.89 75.60,249.10 C75.90,252.73 76.20,253.55 76.50,254.50 C76.93,255.88 77.37,256.84 77.80,257.20 C78.33,257.64 78.87,258.00 79.40,258.00 C80.00,258.00 80.60,256.93 81.20,256.50 C81.73,256.12 82.27,255.50 82.80,255.50 C83.37,255.50 83.93,256.52 84.50,257.00 C85.00,257.42 85.50,257.93 86.00,258.20 C86.50,258.47 87.00,258.80 87.50,258.80 C88.17,258.80 88.83,258.27 89.50,258.00 C90.33,257.67 91.17,257.00 92.00,257.00 C92.67,257.00 93.33,257.88 94.00,258.00 C94.57,258.11 95.13,258.20 95.70,258.20 C96.30,258.20 96.90,257.95 97.50,257.50 C97.83,257.25 98.17,256.15 98.50,254.00 C98.77,252.28 99.03,239.24 99.30,230.00 C99.47,224.22 99.63,212.76 99.80,210.00 C100.03,206.14 100.27,206.95 100.50,203.00 C100.63,200.74 100.77,187.00 100.90,187.00 C101.03,187.00 101.17,192.62 101.30,195.00 C101.47,197.98 101.63,200.68 101.80,203.00 C102.13,207.65 102.47,209.72 102.80,215.00 C103.07,219.22 103.33,227.51 103.60,233.00 C103.90,239.17 104.20,246.73 104.50,250.00 C104.73,252.55 104.97,254.57 105.20,255.50 C105.47,256.56 105.73,257.60 106.00,257.60 C106.50,257.60 107.00,257.01 107.50,256.50 C108.00,255.99 108.50,254.36 109.00,254.00 C109.43,253.69 109.87,253.40 110.30,253.40 C110.70,253.40 111.10,254.09 111.50,254.50 C112.33,255.36 113.17,257.60 114.00,257.60 C114.50,257.60 115.00,256.94 115.50,256.50 C116.07,256.00 116.63,254.60 117.20,254.60 C117.80,254.60 118.40,255.88 119.00,256.50 C119.97,257.49 120.93,259.31 121.90,259.40 C123.27,259.53 124.63,259.60 126.00,259.60 C128.00,259.60 130.00,259.53 132.00,259.50 C134.00,259.47 136.00,259.47 138.00,259.40 C139.07,259.36 140.13,258.00 141.20,258.00 C142.13,258.00 143.07,259.30 144.00,259.30 C145.00,259.30 146.00,259.26 147.00,259.20 C147.80,259.15 148.60,258.00 149.40,258.00 C150.27,258.00 151.13,259.30 152.00,259.30 C153.00,259.30 154.00,259.11 155.00,258.80 C155.70,258.58 156.40,255.80 157.10,255.80 C157.67,255.80 158.23,256.92 158.80,257.50 C159.33,258.05 159.87,259.20 160.40,259.20 C160.80,259.20 161.20,258.32 161.60,257.00 C161.90,256.01 162.20,249.51 162.50,246.00 C162.77,242.88 163.03,238.21 163.30,237.00 C163.47,236.24 163.63,235.50 163.80,235.50 C164.00,235.50 164.20,236.21 164.40,237.00 C164.67,238.06 164.93,243.09 165.20,246.00 C165.47,248.91 165.73,253.01 166.00,254.50 C166.33,256.36 166.67,258.04 167.00,258.20 C167.40,258.39 167.80,258.37 168.20,258.50 C168.80,258.70 169.40,259.35 170.00,259.40 C171.67,259.54 173.33,259.56 175.00,259.60 C176.67,259.64 178.33,259.70 180.00,259.70 C181.67,259.70 183.33,259.61 185.00,259.50 C186.00,259.43 187.00,259.00 188.00,259.00 C189.00,259.00 190.00,259.56 191.00,259.60 C192.67,259.67 194.33,259.70 196.00,259.70 C197.33,259.70 198.67,259.66 200.00,259.60 C201.17,259.55 202.33,259.51 203.50,259.20 C203.87,259.10 204.23,257.72 204.60,256.00 C204.90,254.59 205.20,249.15 205.50,246.00 C205.77,243.20 206.03,238.98 206.30,238.00 C206.50,237.27 206.70,236.60 206.90,236.60 C207.13,236.60 207.37,237.23 207.60,238.00 C207.87,238.88 208.13,243.33 208.40,246.00 C208.70,249.00 209.00,253.61 209.30,255.00 C209.70,256.85 210.10,258.47 210.50,258.50 C211.50,258.58 212.50,258.54 213.50,258.60 C214.33,258.65 215.17,259.49 216.00,259.60 C217.33,259.78 218.67,259.86 220.00,259.90 C221.67,259.95 223.33,259.97 225.00,260.00 C226.67,260.03 228.33,260.07 230.00,260.10 C231.67,260.13 233.33,260.17 235.00,260.20 C236.67,260.23 238.33,260.30 240.00,260.30 C242.60,260.30 245.20,260.30 247.80,260.30" fill="none" stroke="#333" stroke-width="1.05" stroke-linejoin="round"/>
<text x="72.3" y="179.4" font-size="9" text-anchor="middle" font-weight="normal" fill="#222" >1</text>
<text x="101.2" y="184.4" font-size="9" text-anchor="middle" font-weight="normal" fill="#222" >2</text>
<text x="110.3" y="250.5" font-size="9" text-anchor="middle" font-weight="normal" fill="#222" >3</text>
<text x="157.1" y="254.2" font-size="9" text-anchor="middle" font-weight="normal" fill="#222" >4</text>
<text x="163.8" y="233.2" font-size="9" text-anchor="middle" font-weight="normal" fill="#222" >5</text>
<text x="206.9" y="233.2" font-size="9" text-anchor="middle" font-weight="normal" fill="#222" >6</text>
<text x="220" y="203.3" font-size="10.8" text-anchor="start" font-weight="normal" fill="#111" >Hurler</text>
<text transform="translate(12.0,159.6) rotate(-90)" font-size="12.45" text-anchor="middle" fill="#111" >Intensity (mV)</text>
<text x="96.3" y="303.5" font-size="12.2" text-anchor="start" font-weight="normal" fill="#111" >Retention time (min)</text>
<text transform="translate(282.3,18.8) scale(1.07,1)" font-size="23.5" font-weight="bold" fill="#000">B</text>
<text x="302.8" y="33.7" font-size="13.6" text-anchor="start" font-weight="normal" fill="#111" >Proportions of 6 identified</text>
<text x="302.8" y="49.2" font-size="13.6" text-anchor="start" font-weight="normal" fill="#111" >disaccharides</text>
<defs><pattern id="dots" width="2" height="2" patternUnits="userSpaceOnUse"><rect width="2" height="2" fill="#c3c3c3"/><rect width="1" height="1" fill="#bfbfbf"/></pattern></defs>
<line x1="354.2" y1="70.5" x2="354.2" y2="80.0" stroke="#222" stroke-width="1"/>
<line x1="352.0" y1="70.5" x2="356.4" y2="70.5" stroke="#222" stroke-width="1"/>
<line x1="365.8" y1="69.5" x2="365.8" y2="78.2" stroke="#222" stroke-width="1"/>
<line x1="363.6" y1="69.5" x2="368.0" y2="69.5" stroke="#222" stroke-width="1"/>
<rect x="348.90" y="80.00" width="10.60" height="172.30" fill="url(#dots)" stroke="#333" stroke-width="1"/>
<rect x="360.00" y="78.20" width="11.60" height="174.10" fill="#000"/>
<line x1="382.4" y1="175.4" x2="382.4" y2="180.3" stroke="#222" stroke-width="1"/>
<line x1="380.2" y1="175.4" x2="384.59999999999997" y2="175.4" stroke="#222" stroke-width="1"/>
<line x1="394.0" y1="176.4" x2="394.0" y2="178.6" stroke="#222" stroke-width="1"/>
<line x1="391.8" y1="176.4" x2="396.2" y2="176.4" stroke="#222" stroke-width="1"/>
<rect x="377.10" y="180.30" width="10.60" height="72.00" fill="url(#dots)" stroke="#333" stroke-width="1"/>
<rect x="388.20" y="178.60" width="11.60" height="73.70" fill="#000"/>
<line x1="410.7" y1="246.0" x2="410.7" y2="247.0" stroke="#222" stroke-width="1"/>
<line x1="408.5" y1="246.0" x2="412.9" y2="246.0" stroke="#222" stroke-width="1"/>
<line x1="422.3" y1="247.5" x2="422.3" y2="248.3" stroke="#222" stroke-width="1"/>
<line x1="420.1" y1="247.5" x2="424.5" y2="247.5" stroke="#222" stroke-width="1"/>
<rect x="405.40" y="247.00" width="10.60" height="5.30" fill="url(#dots)" stroke="#333" stroke-width="1"/>
<rect x="416.50" y="248.30" width="11.60" height="4.00" fill="#000"/>
<line x1="439.0" y1="249.0" x2="439.0" y2="249.5" stroke="#222" stroke-width="1"/>
<line x1="436.8" y1="249.0" x2="441.2" y2="249.0" stroke="#222" stroke-width="1"/>
<line x1="450.6" y1="250.2" x2="450.6" y2="250.5" stroke="#222" stroke-width="1"/>
<line x1="448.40000000000003" y1="250.2" x2="452.8" y2="250.2" stroke="#222" stroke-width="1"/>
<rect x="433.70" y="249.50" width="10.60" height="2.80" fill="url(#dots)" stroke="#333" stroke-width="1"/>
<rect x="444.80" y="250.50" width="11.60" height="1.80" fill="#000"/>
<line x1="467.2" y1="220.0" x2="467.2" y2="224.3" stroke="#222" stroke-width="1"/>
<line x1="465.0" y1="220.0" x2="469.4" y2="220.0" stroke="#222" stroke-width="1"/>
<line x1="478.8" y1="214.3" x2="478.8" y2="218.0" stroke="#222" stroke-width="1"/>
<line x1="476.6" y1="214.3" x2="481.0" y2="214.3" stroke="#222" stroke-width="1"/>
<rect x="461.90" y="224.30" width="10.60" height="28.00" fill="url(#dots)" stroke="#333" stroke-width="1"/>
<rect x="473.00" y="218.00" width="11.60" height="34.30" fill="#000"/>
<line x1="495.5" y1="213.0" x2="495.5" y2="217.5" stroke="#222" stroke-width="1"/>
<line x1="493.3" y1="213.0" x2="497.7" y2="213.0" stroke="#222" stroke-width="1"/>
<line x1="507.1" y1="221.2" x2="507.1" y2="223.0" stroke="#222" stroke-width="1"/>
<line x1="504.90000000000003" y1="221.2" x2="509.3" y2="221.2" stroke="#222" stroke-width="1"/>
<rect x="490.20" y="217.50" width="10.60" height="34.80" fill="url(#dots)" stroke="#333" stroke-width="1"/>
<rect x="501.30" y="223.00" width="11.60" height="29.30" fill="#000"/>
<rect x="345.5" y="63.6" width="170.10000000000002" height="188.70000000000002" fill="none" stroke="#333" stroke-width="1.1"/>
<line x1="342" y1="252.3" x2="345.5" y2="252.3" stroke="#333" stroke-width="0.9"/>
<line x1="343.5" y1="236.5915" x2="345.5" y2="236.5915" stroke="#333" stroke-width="0.9"/>
<line x1="342" y1="220.883" x2="345.5" y2="220.883" stroke="#333" stroke-width="0.9"/>
<line x1="343.5" y1="205.17450000000002" x2="345.5" y2="205.17450000000002" stroke="#333" stroke-width="0.9"/>
<line x1="342" y1="189.466" x2="345.5" y2="189.466" stroke="#333" stroke-width="0.9"/>
<line x1="343.5" y1="173.7575" x2="345.5" y2="173.7575" stroke="#333" stroke-width="0.9"/>
<line x1="342" y1="158.049" x2="345.5" y2="158.049" stroke="#333" stroke-width="0.9"/>
<line x1="343.5" y1="142.34050000000002" x2="345.5" y2="142.34050000000002" stroke="#333" stroke-width="0.9"/>
<line x1="342" y1="126.632" x2="345.5" y2="126.632" stroke="#333" stroke-width="0.9"/>
<line x1="343.5" y1="110.92349999999999" x2="345.5" y2="110.92349999999999" stroke="#333" stroke-width="0.9"/>
<line x1="342" y1="95.215" x2="345.5" y2="95.215" stroke="#333" stroke-width="0.9"/>
<line x1="343.5" y1="79.50650000000002" x2="345.5" y2="79.50650000000002" stroke="#333" stroke-width="0.9"/>
<line x1="342" y1="63.798" x2="345.5" y2="63.798" stroke="#333" stroke-width="0.9"/>
<text x="340.3" y="257.7" font-size="12.5" text-anchor="end" font-weight="normal" fill="#111" >0</text>
<text x="340.3" y="226.28300000000002" font-size="12.5" text-anchor="end" font-weight="normal" fill="#111" >10</text>
<text x="340.3" y="194.866" font-size="12.5" text-anchor="end" font-weight="normal" fill="#111" >20</text>
<text x="340.3" y="163.449" font-size="12.5" text-anchor="end" font-weight="normal" fill="#111" >30</text>
<text x="340.3" y="132.032" font-size="12.5" text-anchor="end" font-weight="normal" fill="#111" >40</text>
<text x="340.3" y="100.61500000000001" font-size="12.5" text-anchor="end" font-weight="normal" fill="#111" >50</text>
<text x="340.3" y="69.19800000000001" font-size="12.5" text-anchor="end" font-weight="normal" fill="#111" >60</text>
<line x1="374.1" y1="252.3" x2="374.1" y2="254.8" stroke="#333" stroke-width="0.9"/>
<line x1="402.4" y1="252.3" x2="402.4" y2="254.8" stroke="#333" stroke-width="0.9"/>
<line x1="430.6" y1="252.3" x2="430.6" y2="254.8" stroke="#333" stroke-width="0.9"/>
<line x1="459.0" y1="252.3" x2="459.0" y2="254.8" stroke="#333" stroke-width="0.9"/>
<line x1="487.2" y1="252.3" x2="487.2" y2="254.8" stroke="#333" stroke-width="0.9"/>
<text transform="translate(314.0,162.4) rotate(-90)" font-size="13.5" text-anchor="middle" fill="#111" >Disaccharides (% of total HS)</text>
<text transform="translate(362.8,258.2) rotate(-90)" font-size="10" text-anchor="end" fill="#111" >OS</text>
<text transform="translate(390.90000000000003,258.2) rotate(-90)" font-size="10" text-anchor="end" fill="#111" >NS</text>
<text transform="translate(419.90000000000003,258.2) rotate(-90)" font-size="10" text-anchor="end" fill="#111" >6S</text>
<text transform="translate(448.1,258.2) rotate(-90)" font-size="10" text-anchor="end" fill="#111" >NS, 6S</text>
<text transform="translate(476.40000000000003,258.2) rotate(-90)" font-size="10" text-anchor="end" fill="#111" >2S, NS</text>
<text transform="translate(504.6,258.2) rotate(-90)" font-size="10" text-anchor="end" fill="#111" >2S, NS, 6S</text>
<rect x="455.6" y="69.7" width="8.6" height="8.3" fill="#b4b4b4" stroke="#555" stroke-width="1"/>
<rect x="455.8" y="86" width="8.2" height="8.4" fill="#000"/>
<text x="467.2" y="77.9" font-size="10.2" text-anchor="start" font-weight="normal" fill="#111" >Normal</text>
<text x="467.2" y="94.2" font-size="9.95" text-anchor="start" font-weight="normal" fill="#111" >Hurler</text>
<text transform="translate(2.2,338.2) scale(1.07,1)" font-size="23.5" font-weight="bold" fill="#000">C</text>
<text x="14.2" y="352.5" font-size="13.6" text-anchor="start" font-weight="normal" fill="#111" >Proportions of individual 6-sulfated</text>
<text x="14.2" y="368.4" font-size="13.6" text-anchor="start" font-weight="normal" fill="#111" >disaccharides</text>
<line x1="80.3" y1="389.5" x2="80.3" y2="400.3" stroke="#222" stroke-width="1"/>
<line x1="77.1" y1="389.5" x2="83.5" y2="389.5" stroke="#222" stroke-width="1"/>
<line x1="94.10000000000001" y1="412.5" x2="94.10000000000001" y2="424.5" stroke="#222" stroke-width="1"/>
<line x1="90.9" y1="412.5" x2="97.30000000000001" y2="412.5" stroke="#222" stroke-width="1"/>
<rect x="73.60" y="400.30" width="13.1" height="115.70" fill="url(#dots)" stroke="#444" stroke-width="1"/>
<rect x="87.20" y="424.50" width="13.80" height="91.50" fill="#000"/>
<line x1="126.69999999999999" y1="459.3" x2="126.69999999999999" y2="462.0" stroke="#222" stroke-width="1"/>
<line x1="123.49999999999999" y1="459.3" x2="129.89999999999998" y2="459.3" stroke="#222" stroke-width="1"/>
<line x1="140.5" y1="478.8" x2="140.5" y2="488.8" stroke="#222" stroke-width="1"/>
<line x1="137.3" y1="478.8" x2="143.7" y2="478.8" stroke="#222" stroke-width="1"/>
<rect x="120.00" y="462.00" width="13.1" height="54.00" fill="url(#dots)" stroke="#444" stroke-width="1"/>
<rect x="133.60" y="488.80" width="13.80" height="27.20" fill="#000"/>
<line x1="176.4" y1="401.3" x2="176.4" y2="414.5" stroke="#222" stroke-width="1"/>
<line x1="173.20000000000002" y1="401.3" x2="179.6" y2="401.3" stroke="#222" stroke-width="1"/>
<line x1="190.20000000000002" y1="425.8" x2="190.20000000000002" y2="432.5" stroke="#222" stroke-width="1"/>
<line x1="187.00000000000003" y1="425.8" x2="193.4" y2="425.8" stroke="#222" stroke-width="1"/>
<rect x="169.70" y="414.50" width="13.1" height="101.50" fill="url(#dots)" stroke="#444" stroke-width="1"/>
<rect x="183.30" y="432.50" width="13.80" height="83.50" fill="#000"/>
<line x1="64.3" y1="378.2" x2="210" y2="378.2" stroke="#666" stroke-width="1"/>
<line x1="64.3" y1="378.2" x2="64.3" y2="516" stroke="#333" stroke-width="1.1"/>
<line x1="64.3" y1="516" x2="210" y2="516" stroke="#333" stroke-width="1.1"/>
<line x1="210" y1="378.2" x2="210" y2="516" stroke="#333" stroke-width="1.1"/>
<line x1="157" y1="378.2" x2="157" y2="516" stroke="#555" stroke-width="1"/>
<line x1="61.5" y1="516.2" x2="64.3" y2="516.2" stroke="#444" stroke-width="0.8"/>
<line x1="62.8" y1="509.31000000000006" x2="64.3" y2="509.31000000000006" stroke="#444" stroke-width="0.8"/>
<line x1="62.8" y1="502.4200000000001" x2="64.3" y2="502.4200000000001" stroke="#444" stroke-width="0.8"/>
<line x1="62.8" y1="495.53000000000003" x2="64.3" y2="495.53000000000003" stroke="#444" stroke-width="0.8"/>
<line x1="62.8" y1="488.64000000000004" x2="64.3" y2="488.64000000000004" stroke="#444" stroke-width="0.8"/>
<line x1="61.5" y1="481.75000000000006" x2="64.3" y2="481.75000000000006" stroke="#444" stroke-width="0.8"/>
<line x1="62.8" y1="474.86" x2="64.3" y2="474.86" stroke="#444" stroke-width="0.8"/>
<line x1="62.8" y1="467.97" x2="64.3" y2="467.97" stroke="#444" stroke-width="0.8"/>
<line x1="62.8" y1="461.08000000000004" x2="64.3" y2="461.08000000000004" stroke="#444" stroke-width="0.8"/>
<line x1="62.8" y1="454.19000000000005" x2="64.3" y2="454.19000000000005" stroke="#444" stroke-width="0.8"/>
<line x1="61.5" y1="447.30000000000007" x2="64.3" y2="447.30000000000007" stroke="#444" stroke-width="0.8"/>
<line x1="62.8" y1="440.41" x2="64.3" y2="440.41" stroke="#444" stroke-width="0.8"/>
<line x1="62.8" y1="433.52000000000004" x2="64.3" y2="433.52000000000004" stroke="#444" stroke-width="0.8"/>
<line x1="62.8" y1="426.63000000000005" x2="64.3" y2="426.63000000000005" stroke="#444" stroke-width="0.8"/>
<line x1="62.8" y1="419.74" x2="64.3" y2="419.74" stroke="#444" stroke-width="0.8"/>
<line x1="61.5" y1="412.85" x2="64.3" y2="412.85" stroke="#444" stroke-width="0.8"/>
<line x1="62.8" y1="405.96000000000004" x2="64.3" y2="405.96000000000004" stroke="#444" stroke-width="0.8"/>
<line x1="62.8" y1="399.07000000000005" x2="64.3" y2="399.07000000000005" stroke="#444" stroke-width="0.8"/>
<line x1="62.8" y1="392.18000000000006" x2="64.3" y2="392.18000000000006" stroke="#444" stroke-width="0.8"/>
<line x1="62.8" y1="385.29" x2="64.3" y2="385.29" stroke="#444" stroke-width="0.8"/>
<line x1="61.5" y1="378.40000000000003" x2="64.3" y2="378.40000000000003" stroke="#444" stroke-width="0.8"/>
<text x="61.3" y="519.1" font-size="8.2" text-anchor="end" font-weight="normal" fill="#222" font-weight="bold" letter-spacing="0.6">0.0</text>
<text x="61.3" y="484.65000000000003" font-size="8.2" text-anchor="end" font-weight="normal" fill="#222" font-weight="bold" letter-spacing="0.6">0.5</text>
<text x="61.3" y="450.20000000000005" font-size="8.2" text-anchor="end" font-weight="normal" fill="#222" font-weight="bold" letter-spacing="0.6">1.0</text>
<text x="61.3" y="415.75" font-size="8.2" text-anchor="end" font-weight="normal" fill="#222" font-weight="bold" letter-spacing="0.6">1.5</text>
<text x="61.3" y="381.3" font-size="8.2" text-anchor="end" font-weight="normal" fill="#222" font-weight="bold" letter-spacing="0.6">2.0</text>
<line x1="210" y1="515.6" x2="213" y2="515.6" stroke="#444" stroke-width="0.8"/>
<line x1="210" y1="506.48" x2="212" y2="506.48" stroke="#444" stroke-width="0.8"/>
<line x1="210" y1="497.36" x2="212" y2="497.36" stroke="#444" stroke-width="0.8"/>
<line x1="210" y1="488.24" x2="212" y2="488.24" stroke="#444" stroke-width="0.8"/>
<line x1="210" y1="479.12" x2="212" y2="479.12" stroke="#444" stroke-width="0.8"/>
<line x1="210" y1="470.0" x2="213" y2="470.0" stroke="#444" stroke-width="0.8"/>
<line x1="210" y1="460.88" x2="212" y2="460.88" stroke="#444" stroke-width="0.8"/>
<line x1="210" y1="451.76000000000005" x2="212" y2="451.76000000000005" stroke="#444" stroke-width="0.8"/>
<line x1="210" y1="442.64000000000004" x2="212" y2="442.64000000000004" stroke="#444" stroke-width="0.8"/>
<line x1="210" y1="433.52000000000004" x2="212" y2="433.52000000000004" stroke="#444" stroke-width="0.8"/>
<line x1="210" y1="424.40000000000003" x2="213" y2="424.40000000000003" stroke="#444" stroke-width="0.8"/>
<line x1="210" y1="415.28000000000003" x2="212" y2="415.28000000000003" stroke="#444" stroke-width="0.8"/>
<line x1="210" y1="406.16" x2="212" y2="406.16" stroke="#444" stroke-width="0.8"/>
<line x1="210" y1="397.04" x2="212" y2="397.04" stroke="#444" stroke-width="0.8"/>
<line x1="210" y1="387.92" x2="212" y2="387.92" stroke="#444" stroke-width="0.8"/>
<line x1="210" y1="378.80000000000007" x2="213" y2="378.80000000000007" stroke="#444" stroke-width="0.8"/>
<text x="214.5" y="518.9" font-size="9.0" text-anchor="start" font-weight="normal" fill="#222" >0</text>
<text x="214.5" y="473.3" font-size="9.0" text-anchor="start" font-weight="normal" fill="#222" >5</text>
<text x="214.5" y="427.70000000000005" font-size="9.0" text-anchor="start" font-weight="normal" fill="#222" >10</text>
<text x="214.5" y="382.1000000000001" font-size="9.0" text-anchor="start" font-weight="normal" fill="#222" >15</text>
<rect x="112.8" y="382.8" width="6.6" height="7" fill="url(#dots)" stroke="#333" stroke-width="0.9"/>
<rect x="112.5" y="395" width="7.2" height="7.2" fill="#000"/>
<text x="122" y="390" font-size="10.2" text-anchor="start" font-weight="normal" fill="#111" >Normal</text>
<text x="122" y="402.5" font-size="10.2" text-anchor="start" font-weight="normal" fill="#111" >Hurler</text>
<text transform="translate(20.7,445.3) rotate(-90)" font-size="13.7" text-anchor="middle" fill="#111" >Disaccharides</text>
<text transform="translate(37.6,444.4) rotate(-90)" font-size="13.4" text-anchor="middle" fill="#111" >(% of total HS)</text>
<text x="86.8" y="528.8" font-size="10.2" text-anchor="middle" font-weight="normal" fill="#111" >6S</text>
<text x="133.2" y="528.8" font-size="10.2" text-anchor="middle" font-weight="normal" fill="#111" >NS, 6S</text>
<text x="185.5" y="528.8" font-size="10.2" text-anchor="middle" font-weight="normal" fill="#111" >2S, NS, 6S</text>
<text transform="translate(282.3,338.0) scale(1.07,1)" font-size="23.5" font-weight="bold" fill="#000">D</text>
<text x="304.9" y="352.7" font-size="13.6" text-anchor="start" font-weight="normal" fill="#111" >Total 6-sulfated disaccharides</text>
<line x1="378.5" y1="399.4" x2="378.5" y2="409.7" stroke="#222" stroke-width="1"/>
<line x1="372.7" y1="399.4" x2="384.3" y2="399.4" stroke="#222" stroke-width="1"/>
<rect x="366.8" y="409.7" width="23.90" height="92.80" fill="#000"/>
<line x1="415.75" y1="423.1" x2="415.75" y2="428.2" stroke="#222" stroke-width="1"/>
<line x1="409.0" y1="423.1" x2="422.5" y2="423.1" stroke="#222" stroke-width="1"/>
<rect x="404.5" y="428.2" width="24.20" height="74.30" fill="#000"/>
<rect x="359.6" y="365.6" width="76.30" height="136.90" fill="none" stroke="#555" stroke-width="1"/>
<line x1="357.0" y1="502.5" x2="359.6" y2="502.5" stroke="#444" stroke-width="0.8"/>
<line x1="358.2" y1="495.705" x2="359.6" y2="495.705" stroke="#444" stroke-width="0.8"/>
<line x1="358.2" y1="488.91" x2="359.6" y2="488.91" stroke="#444" stroke-width="0.8"/>
<line x1="358.2" y1="482.115" x2="359.6" y2="482.115" stroke="#444" stroke-width="0.8"/>
<line x1="358.2" y1="475.32" x2="359.6" y2="475.32" stroke="#444" stroke-width="0.8"/>
<line x1="357.0" y1="468.525" x2="359.6" y2="468.525" stroke="#444" stroke-width="0.8"/>
<line x1="358.2" y1="461.73" x2="359.6" y2="461.73" stroke="#444" stroke-width="0.8"/>
<line x1="358.2" y1="454.935" x2="359.6" y2="454.935" stroke="#444" stroke-width="0.8"/>
<line x1="358.2" y1="448.14" x2="359.6" y2="448.14" stroke="#444" stroke-width="0.8"/>
<line x1="358.2" y1="441.345" x2="359.6" y2="441.345" stroke="#444" stroke-width="0.8"/>
<line x1="357.0" y1="434.55" x2="359.6" y2="434.55" stroke="#444" stroke-width="0.8"/>
<line x1="358.2" y1="427.755" x2="359.6" y2="427.755" stroke="#444" stroke-width="0.8"/>
<line x1="358.2" y1="420.96000000000004" x2="359.6" y2="420.96000000000004" stroke="#444" stroke-width="0.8"/>
<line x1="358.2" y1="414.165" x2="359.6" y2="414.165" stroke="#444" stroke-width="0.8"/>
<line x1="358.2" y1="407.37" x2="359.6" y2="407.37" stroke="#444" stroke-width="0.8"/>
<line x1="357.0" y1="400.575" x2="359.6" y2="400.575" stroke="#444" stroke-width="0.8"/>
<line x1="358.2" y1="393.78" x2="359.6" y2="393.78" stroke="#444" stroke-width="0.8"/>
<line x1="358.2" y1="386.985" x2="359.6" y2="386.985" stroke="#444" stroke-width="0.8"/>
<line x1="358.2" y1="380.19" x2="359.6" y2="380.19" stroke="#444" stroke-width="0.8"/>
<line x1="358.2" y1="373.395" x2="359.6" y2="373.395" stroke="#444" stroke-width="0.8"/>
<line x1="357.0" y1="366.6" x2="359.6" y2="366.6" stroke="#444" stroke-width="0.8"/>
<text x="355.5" y="506.2" font-size="9.5" text-anchor="end" font-weight="normal" fill="#333" >0</text>
<text x="355.5" y="472.22499999999997" font-size="9.5" text-anchor="end" font-weight="normal" fill="#333" >5</text>
<text x="355.5" y="438.25" font-size="9.5" text-anchor="end" font-weight="normal" fill="#333" >10</text>
<text x="355.5" y="404.275" font-size="9.5" text-anchor="end" font-weight="normal" fill="#333" >15</text>
<text x="355.5" y="370.3" font-size="9.5" text-anchor="end" font-weight="normal" fill="#333" >20</text>
<text x="378.2" y="394.2" font-size="15" text-anchor="middle" font-weight="normal" fill="#111" stroke="#111" stroke-width="0.3">*</text>
<text x="380.1" y="514.6" font-size="10.1" text-anchor="middle" font-weight="normal" fill="#111" >Normal</text>
<text x="417.0" y="514.6" font-size="10.1" text-anchor="middle" font-weight="normal" fill="#111" >Hurler</text>
<text transform="translate(317.6,434.5) rotate(-90)" font-size="13.7" text-anchor="middle" fill="#111" >Disaccharides</text>
<text transform="translate(334.2,433.4) rotate(-90)" font-size="13.6" text-anchor="middle" fill="#111" >(% of total HS)</text>
<text transform="translate(127.7,568.0) scale(1.07,1)" font-size="23.5" font-weight="bold" fill="#000">E</text>
<text x="128.9" y="585.9" font-size="13.55" text-anchor="start" font-weight="normal" fill="#111" >Correlation between total HS accumulation</text>
<text x="128.9" y="601.5" font-size="13.55" text-anchor="start" font-weight="normal" fill="#111" >and proportion of UA-GlcNS6S</text>
<rect x="181.2" y="616.4" width="200.20" height="161.70" fill="none" stroke="#333" stroke-width="1"/>
<line x1="177.6" y1="778.1" x2="181.2" y2="778.1" stroke="#333" stroke-width="1"/>
<text x="175.6" y="782.1" font-size="11.3" text-anchor="end" font-weight="normal" fill="#111" >0</text>
<line x1="177.6" y1="745.76" x2="181.2" y2="745.76" stroke="#333" stroke-width="1"/>
<text x="175.6" y="749.76" font-size="11.3" text-anchor="end" font-weight="normal" fill="#111" >20</text>
<line x1="177.6" y1="713.42" x2="181.2" y2="713.42" stroke="#333" stroke-width="1"/>
<text x="175.6" y="717.42" font-size="11.3" text-anchor="end" font-weight="normal" fill="#111" >40</text>
<line x1="177.6" y1="681.0799999999999" x2="181.2" y2="681.0799999999999" stroke="#333" stroke-width="1"/>
<text x="175.6" y="685.0799999999999" font-size="11.3" text-anchor="end" font-weight="normal" fill="#111" >60</text>
<line x1="177.6" y1="648.74" x2="181.2" y2="648.74" stroke="#333" stroke-width="1"/>
<text x="175.6" y="652.74" font-size="11.3" text-anchor="end" font-weight="normal" fill="#111" >80</text>
<line x1="177.6" y1="616.4" x2="181.2" y2="616.4" stroke="#333" stroke-width="1"/>
<text x="175.6" y="620.4" font-size="11.3" text-anchor="end" font-weight="normal" fill="#111" >100</text>
<line x1="181.2" y1="778.1" x2="181.2" y2="782.1" stroke="#333" stroke-width="1"/>
<text x="181.39999999999998" y="793.2" font-size="11.3" text-anchor="middle" font-weight="normal" fill="#111" >0</text>
<line x1="209.79999999999998" y1="778.1" x2="209.79999999999998" y2="782.1" stroke="#333" stroke-width="1"/>
<text x="209.99999999999997" y="793.2" font-size="11.3" text-anchor="middle" font-weight="normal" fill="#111" >20</text>
<line x1="238.39999999999998" y1="778.1" x2="238.39999999999998" y2="782.1" stroke="#333" stroke-width="1"/>
<text x="238.59999999999997" y="793.2" font-size="11.3" text-anchor="middle" font-weight="normal" fill="#111" >40</text>
<line x1="267.0" y1="778.1" x2="267.0" y2="782.1" stroke="#333" stroke-width="1"/>
<text x="267.2" y="793.2" font-size="11.3" text-anchor="middle" font-weight="normal" fill="#111" >60</text>
<line x1="295.6" y1="778.1" x2="295.6" y2="782.1" stroke="#333" stroke-width="1"/>
<text x="295.8" y="793.2" font-size="11.3" text-anchor="middle" font-weight="normal" fill="#111" >80</text>
<line x1="324.2" y1="778.1" x2="324.2" y2="782.1" stroke="#333" stroke-width="1"/>
<text x="324.4" y="793.2" font-size="11.3" text-anchor="middle" font-weight="normal" fill="#111" >100</text>
<line x1="352.79999999999995" y1="778.1" x2="352.79999999999995" y2="782.1" stroke="#333" stroke-width="1"/>
<text x="352.99999999999994" y="793.2" font-size="11.3" text-anchor="middle" font-weight="normal" fill="#111" >120</text>
<line x1="381.4" y1="778.1" x2="381.4" y2="782.1" stroke="#333" stroke-width="1"/>
<text x="381.59999999999997" y="793.2" font-size="11.3" text-anchor="middle" font-weight="normal" fill="#111" >140</text>
<line x1="188.3" y1="748.8" x2="378.3" y2="642.3" stroke="#111" stroke-width="1.1" style="shape-rendering:auto"/>
<rect x="185.20" y="745.70" width="6.2" height="6.2" fill="#000"/>
<rect x="236.30" y="716.70" width="6.2" height="6.2" fill="#000"/>
<rect x="375.20" y="639.20" width="6.2" height="6.2" fill="#000"/>
<text transform="translate(145.2,694) rotate(-90)" font-size="12.65" text-anchor="middle" fill="#111" >% decrease in UA-GlcNS6S</text>
<text x="185.9" y="816.5" font-size="13.5" text-anchor="start" font-weight="normal" fill="#111" >% increase in HS accumulation</text>
</svg>
</body></html>
